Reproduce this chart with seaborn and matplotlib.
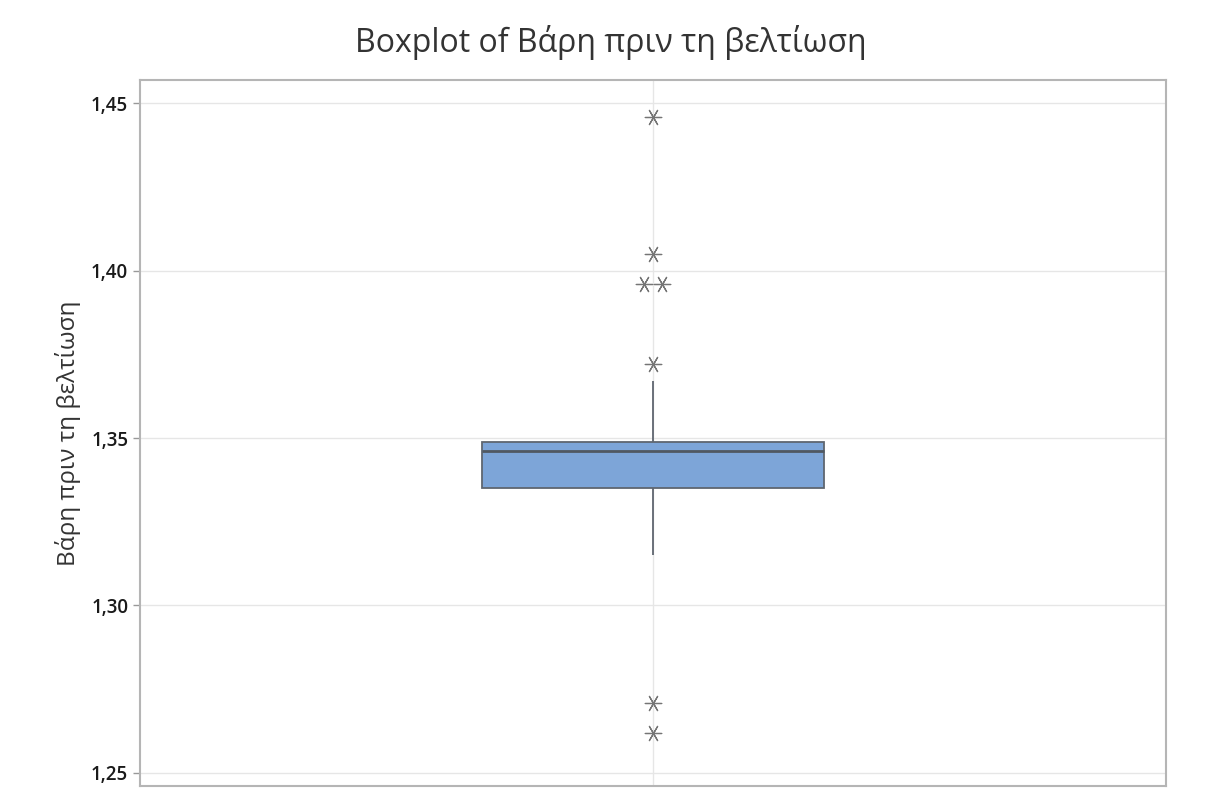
import numpy as np
import pandas as pd
import seaborn as sns
import matplotlib.pyplot as plt
from matplotlib.ticker import FuncFormatter

# values
weights = [1.262, 1.271, 1.315, 1.322, 1.328, 1.332,
           1.335,
           1.338, 1.340, 1.342, 1.344, 1.345,
           1.346,
           1.3465, 1.347, 1.3475, 1.348, 1.3482,
           1.3487,
           1.367, 1.372, 1.396, 1.396, 1.405, 1.446]
y_ticks = [1.25, 1.30, 1.35, 1.40, 1.45]
title = "Boxplot of Βάρη πριν τη βελτίωση"
y_label = "Βάρη πριν τη βελτίωση"

sns.set_theme(style="whitegrid")
plt.rcParams["font.family"] = ["Open Sans", "DejaVu Sans"]

fig = plt.figure(figsize=(12.2, 8.09), dpi=100)
ax = fig.add_axes([140 / 1220, 1 - 786 / 809, 1026 / 1220, 706 / 809])

df = pd.DataFrame({"w": weights})
sns.boxplot(data=df, y="w", ax=ax, width=1.0, whis=1.5, showfliers=False,
            showcaps=False, color="#7DA5D8", saturation=1,
            linecolor="#5f6670", linewidth=1.3,
            medianprops=dict(color="#505862", linewidth=2))

# outliers, side by side when values repeat (Minitab style)
q1, q3 = np.percentile(weights, [25, 75])
iqr = q3 - q1
out = df[(df.w < q1 - 1.5 * iqr) | (df.w > q3 + 1.5 * iqr)].copy()
n = out.groupby("w")["w"].transform("count")
k = out.groupby("w").cumcount()
out["x"] = (k - (n - 1) / 2) * 0.05
sns.scatterplot(data=out, x="x", y="w", marker=(6, 2, 90), s=140,
                color="#757575", linewidth=0.9, ax=ax, zorder=5)

ax.set_xlim(-1.5, 1.5)
ax.set_ylim(1.2461, 1.4569)
ax.set_yticks(y_ticks)
ax.yaxis.set_major_formatter(FuncFormatter(lambda v, p: f"{v:.2f}".replace(".", ",")))
ax.set_xticks([0])
ax.set_xticklabels([""])
ax.xaxis.grid(True)
ax.grid(color="#e6e6e6", linewidth=1)
ax.tick_params(axis="x", length=0)
ax.tick_params(axis="y", left=True, length=5, width=1, color="#999999",
               labelsize=13.5, labelcolor="#1a1a1a")
for lbl in ax.get_yticklabels():
    lbl.set_fontweight("semibold")
for sp in ax.spines.values():
    sp.set_color("#b5b5b5")
    sp.set_linewidth(1.5)

ax.set_xlabel("")
ax.set_ylabel(y_label, fontsize=17.5, color="#333333", labelpad=7)
fig.text(611 / 1220, 1 - 43 / 809, title, ha="center", va="center",
         fontsize=23, color="#333333")

fig.savefig("out.png", dpi=100, facecolor="white")
